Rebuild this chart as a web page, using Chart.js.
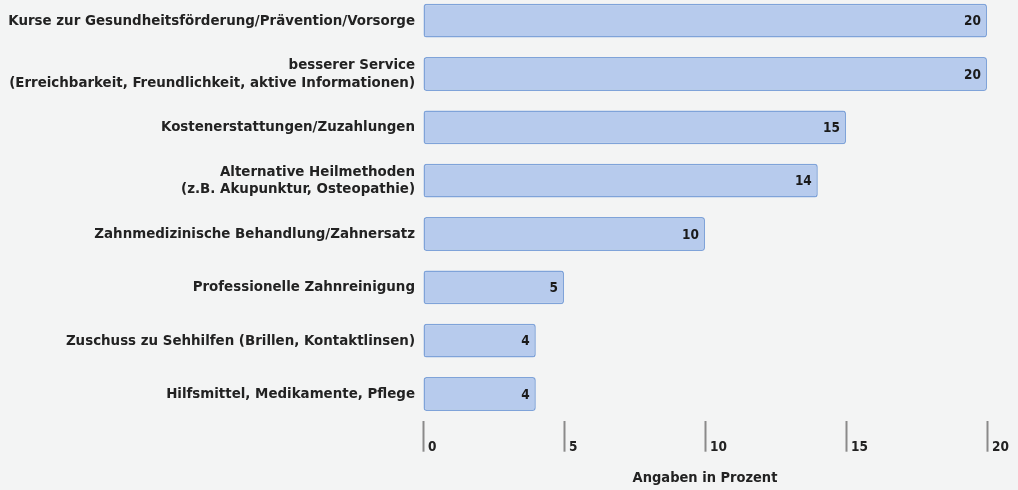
<!DOCTYPE html>
<html lang="de">
<head>
<meta charset="utf-8">
<script src="https://cdn.jsdelivr.net/npm/chart.js@4/dist/chart.umd.min.js"></script>
<style>
  html, body { margin: 0; padding: 0; background: #f3f4f4; overflow: hidden; }
  #wrap { position: absolute; left: 0; top: -6px; width: 1018px; height: 496px; }
</style>
</head>
<body>
<div id="wrap"><canvas id="chart"></canvas></div>
<script>
// Daten
const categories = [
  'Kurse zur Gesundheitsförderung/Prävention/Vorsorge',
  ['besserer Service', '(Erreichbarkeit, Freundlichkeit, aktive Informationen)'],
  'Kostenerstattungen/Zuzahlungen',
  ['Alternative Heilmethoden', '(z.B. Akupunktur, Osteopathie)'],
  'Zahnmedizinische Behandlung/Zahnersatz',
  'Professionelle Zahnreinigung',
  'Zuschuss zu Sehhilfen (Brillen, Kontaktlinsen)',
  'Hilfsmittel, Medikamente, Pflege'
];
const values = [20, 20, 15, 14, 10, 5, 4, 4];
const xTicks = [0, 5, 10, 15, 20];
const axisTitle = 'Angaben in Prozent';

const FONT = '"DejaVu Sans Condensed", "Liberation Sans Narrow", sans-serif';

// Werte am Balkenende
const valueLabels = {
  id: 'valueLabels',
  afterDatasetsDraw(chart) {
    const ctx = chart.ctx;
    const meta = chart.getDatasetMeta(0);
    ctx.save();
    ctx.font = 'bold 13.5px ' + FONT;
    ctx.fillStyle = '#1a1a1a';
    ctx.textAlign = 'right';
    ctx.textBaseline = 'middle';
    meta.data.forEach((bar, i) => {
      ctx.fillText(String(values[i]), bar.x - 6, bar.y + 1);
    });
    ctx.restore();
  }
};

new Chart(document.getElementById('chart'), {
  type: 'bar',
  data: {
    labels: categories,
    datasets: [{
      data: values,
      backgroundColor: '#b7cbed',
      borderColor: '#7fa3d9',
      borderWidth: 1.5,
      borderRadius: 3,
      borderSkipped: false,
      categoryPercentage: 1,
      barPercentage: 0.634
    }]
  },
  options: {
    indexAxis: 'y',
    responsive: true,
    maintainAspectRatio: false,
    animation: false,
    layout: { padding: { left: 0, right: 31, top: 0, bottom: 0 } },
    plugins: { legend: { display: false }, tooltip: { enabled: false } },
    scales: {
      y: {
        grid: { display: false, drawTicks: false },
        border: { display: false },
        ticks: {
          color: '#222',
          padding: 8,
          font: { family: FONT, size: 14.9, weight: 'bold', lineHeight: 1.2 }
        },
        afterFit(s) {
          s.width = 423;
          s.paddingTop = 0;
          s.paddingBottom = 0;
        }
      },
      x: {
        min: 0,
        max: 20,
        afterBuildTicks(s) { s.ticks = xTicks.map(v => ({ value: v })); },
        grid: {
          drawOnChartArea: false,
          drawTicks: true,
          tickLength: 31,
          tickWidth: 2,
          tickColor: '#8a8a8a'
        },
        border: { display: false },
        ticks: {
          align: 'start',
          labelOffset: 5,
          padding: -12,
          color: '#222',
          font: { family: FONT, size: 13.5, weight: 'bold' }
        },
        title: {
          display: true,
          text: axisTitle,
          color: '#222',
          padding: { top: 0, bottom: 3 },
          font: { family: FONT, size: 14.5, weight: 'bold' }
        },
        afterFit(s) {
          s.height = 69.3;
        }
      }
    }
  },
  plugins: [valueLabels]
});
</script>
</body>
</html>
